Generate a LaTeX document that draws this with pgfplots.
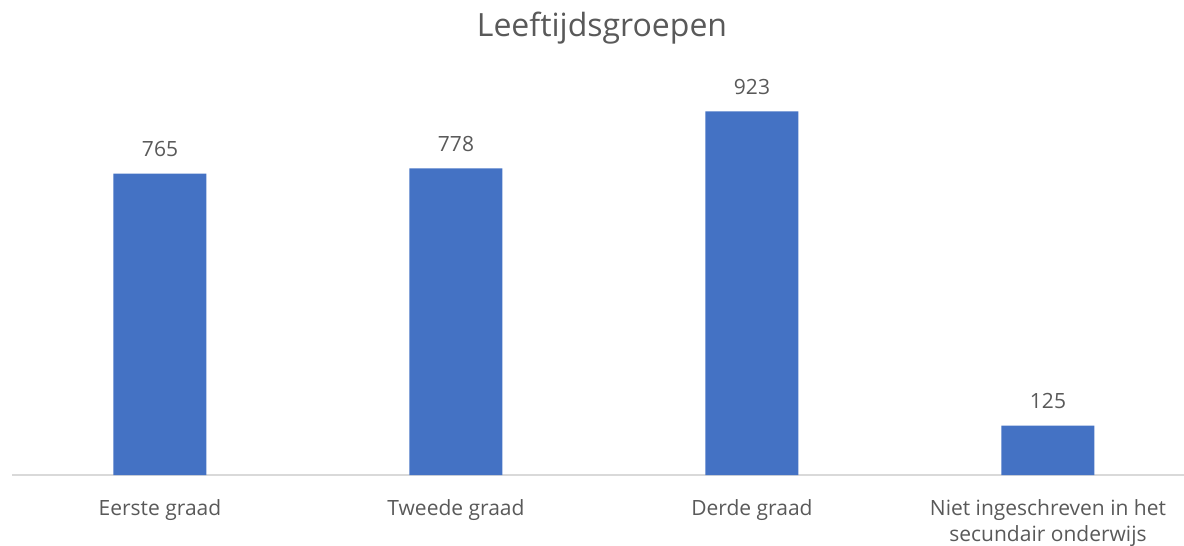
\documentclass[border=0pt]{standalone}
\usepackage{pgfplots}
\pgfplotsset{compat=1.18}
\usepackage{fontspec}
\setmainfont{Open Sans}
\definecolor{barblue}{HTML}{4472C4}
\definecolor{txt}{HTML}{595959}
\definecolor{axl}{HTML}{D9D9D9}
\begin{document}
\begin{tikzpicture}
\useasboundingbox (0,0) rectangle (1184bp,546bp);
\begin{axis}[
 at={(12bp,71bp)}, anchor=south west,
 scale only axis, width=1184bp, height=394bp,
 xmin=-0.5, xmax=3.5, ymin=0, ymax=1000,
 clip=false,
 /pgf/number format/assume math mode=true,
 axis x line=bottom, axis y line=none,
 axis line style={draw=axl, line width=1.3bp, -},
 xtick={0,1,2,3},
 xticklabels={Eerste graad, Tweede graad, Derde graad, {Niet ingeschreven in het\\secundair onderwijs}},
 xticklabel style={align=center, anchor=north, inner sep=0pt, yshift=-24bp, font=\fontsize{21bp}{26.5bp}\selectfont, text=txt},
 major tick length=0pt,
 ybar, bar width=93bp,
 nodes near coords,
 every node near coord/.append style={anchor=base, inner sep=0pt, yshift=17bp, font=\fontsize{21bp}{24bp}\selectfont, text=txt},
]
\addplot[fill=barblue, draw=none] coordinates {(0,765) (1,778) (2,923) (3,125)};
\end{axis}
\node[anchor=base, text=txt, font=\fontsize{32bp}{38bp}\selectfont, inner sep=0pt] at (602bp,509bp) {Leeftijdsgroepen};
\end{tikzpicture}
\end{document}
